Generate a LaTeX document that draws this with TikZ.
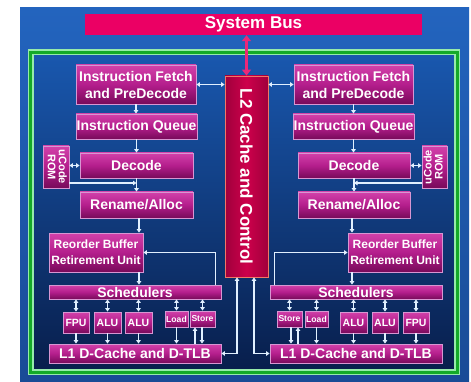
\documentclass[tikz,border=0pt]{standalone}
\usepackage{fontspec}
\setmainfont{Liberation Sans}
\usetikzlibrary{arrows.meta}
\definecolor{bgtop}{RGB}{35,100,190}
\definecolor{bgbot}{RGB}{25,75,150}
\definecolor{intop}{RGB}{25,88,175}
\definecolor{inbot}{RGB}{8,30,75}
\definecolor{frgreen}{RGB}{20,170,40}
\definecolor{frlight}{RGB}{150,235,170}
\definecolor{bxtop}{RGB}{210,65,170}
\definecolor{bxmid}{RGB}{180,30,140}
\definecolor{bxbot}{RGB}{120,10,90}
\definecolor{bxline}{RGB}{215,150,210}
\definecolor{ltwo}{RGB}{205,0,75}
\definecolor{ltwodark}{RGB}{160,0,60}
\definecolor{ltwoline}{RGB}{240,120,100}
\definecolor{buscol}{RGB}{235,0,100}
\definecolor{busarrow}{RGB}{235,40,120}
\definecolor{arrowc}{RGB}{225,240,255}
\tikzset{
  box/.style={draw=bxline, line width=0.8pt, top color=bxtop, bottom color=bxbot, middle color=bxmid,
    inner sep=0pt, text=white, align=center, font=\fontsize{14}{17}\selectfont\bfseries},
  midfont/.style={font=\fontsize{12}{16}\selectfont\bfseries},
  unitfont/.style={font=\fontsize{10.5}{12}\selectfont\bfseries},
  smallfont/.style={font=\fontsize{8.6}{10}\selectfont\bfseries},
  romfont/.style={font=\fontsize{11}{13}\selectfont\bfseries},
  arr/.style={draw=arrowc, line width=1.3pt, -{Triangle[length=3.5pt,width=4.5pt]}},
  darr/.style={draw=arrowc, line width=1.3pt, {Triangle[length=3.5pt,width=4.5pt]}-{Triangle[length=3.5pt,width=4.5pt]}},
}
\begin{document}
\begin{tikzpicture}[x=1pt,y=-1pt]
\useasboundingbox (0,0) rectangle (471,382);
\fill[white] (0,0) rectangle (471,382);
% background
\shade[top color=bgtop, bottom color=bgbot] (20,8) rectangle (469,382);
\shade[top color=intop, bottom color=inbot] (30.5,52.5) rectangle (457,372);
\draw[frlight, line width=6pt] (30.5,52.5) rectangle (457,372);
\draw[frgreen, line width=3pt] (30.5,52.5) rectangle (457,372);
% bus and L2
\node[fill=buscol, minimum width=337, minimum height=21, inner sep=0pt, text=white,
  font=\fontsize{17}{20}\selectfont\bfseries] (bus) at (253.5,24.5) {System Bus};
\node[draw=ltwoline, line width=0.8pt, left color=ltwodark, right color=ltwodark, middle color=ltwo,
  minimum width=43, minimum height=201, inner sep=0pt, text=white,
  font=\fontsize{17}{20}\selectfont\bfseries] (L2) at (246.5,176.5) {\rotatebox{-90}{L2 Cache and Control}};
\draw[busarrow, line width=3pt, {Triangle[length=6pt,width=9pt]}-{Triangle[length=6pt,width=9pt]}]
  (bus.south -| L2.north) -- (L2.north);
% left core
\node[box, minimum width=120, minimum height=39] (fetchL) at (136,84.5) {Instruction Fetch\\and PreDecode};
\node[box, minimum width=121, minimum height=25] (queueL) at (136.5,126.5) {Instruction Queue};
\node[box, minimum width=113, minimum height=25] (decodeL) at (136.5,165.5) {Decode};
\node[box, romfont, minimum width=26, minimum height=42] (ucodeL) at (56,167)
  {\rotatebox{-90}{\begin{tabular}{@{}c@{}}uCode\\[-2pt]ROM\end{tabular}}};
\node[box, minimum width=113, minimum height=26] (renameL) at (136.5,205) {Rename/Alloc};
\node[box, midfont, minimum width=94, minimum height=39] (robL) at (96,252.5) {Reorder Buffer\\Retirement Unit};
\node[box, minimum width=172, minimum height=14] (schedL) at (135,292) {Schedulers};
\node[box, unitfont, minimum width=26, minimum height=21] (fpuL) at (76,322.5) {FPU};
\node[box, unitfont, minimum width=27, minimum height=21] (aluaL) at (107.5,322.5) {ALU};
\node[box, unitfont, minimum width=27, minimum height=21] (alubL) at (138.5,322.5) {ALU};
\node[box, smallfont, minimum width=23, minimum height=16] (loadL) at (176.5,319) {Load};
\node[box, smallfont, minimum width=25, minimum height=16] (storeL) at (202.5,319) {Store};
\node[box, minimum width=172, minimum height=19] (l1L) at (135,353.5) {L1 D-Cache and D-TLB};
% right core
\node[box, minimum width=119, minimum height=39] (fetchR) at (353.5,84.5) {Instruction Fetch\\and PreDecode};
\node[box, minimum width=121, minimum height=25] (queueR) at (353.5,126.5) {Instruction Queue};
\node[box, minimum width=112, minimum height=25] (decodeR) at (354,165.5) {Decode};
\node[box, romfont, minimum width=25, minimum height=42] (ucodeR) at (434.5,167)
  {\rotatebox{90}{\begin{tabular}{@{}c@{}}uCode\\[-2pt]ROM\end{tabular}}};
\node[box, minimum width=112, minimum height=26] (renameR) at (354,205) {Rename/Alloc};
\node[box, midfont, minimum width=94, minimum height=39] (robR) at (395,252.5) {Reorder Buffer\\Retirement Unit};
\node[box, minimum width=172, minimum height=14] (schedR) at (356,292) {Schedulers};
\node[box, smallfont, minimum width=25, minimum height=16] (storeR) at (289.5,319) {Store};
\node[box, smallfont, minimum width=23, minimum height=16] (loadR) at (316.5,319) {Load};
\node[box, unitfont, minimum width=27, minimum height=21] (aluaR) at (353.5,322.5) {ALU};
\node[box, unitfont, minimum width=26, minimum height=21] (alubR) at (385,322.5) {ALU};
\node[box, unitfont, minimum width=26, minimum height=21] (fpuR) at (416,322.5) {FPU};
\node[box, minimum width=172, minimum height=19] (l1R) at (356,353.5) {L1 D-Cache and D-TLB};
% helper coordinates
\coordinate (cxL) at (139,0);
\coordinate (cxR) at (352,0);
\coordinate (ym) at (0,183);
\coordinate (stLu) at (195,0);
\coordinate (stLd) at (202,0);
\coordinate (stRd) at (291,0);
\coordinate (stRu) at (298,0);
\coordinate (ca) at (237,0);
\coordinate (cb) at (254,0);
% left connectors
\draw[darr] (fetchL.east) -- (fetchL.east -| L2.west);
\draw[arr] (fetchL.south) -- (fetchL.south |- queueL.north);
\draw[arr] (queueL.south) -- (queueL.south |- decodeL.north);
\draw[darr] (ucodeL.east |- decodeL.west) -- (decodeL.west);
\draw[arr] (decodeL.south) -- (decodeL.south |- renameL.north);
\draw[arr] (ucodeL.east |- ym) -- (decodeL.south |- ym);
\draw[arr] (cxL |- renameL.south) -- (cxL |- robL.north);
\draw[arr] (cxL |- robL.south) -- (cxL |- schedL.north);
\draw[arr] ([xshift=-6pt]schedL.north east) |- (robL.east);
\foreach \u in {fpuL,aluaL,alubL,loadL,storeL}{
  \draw[darr] (\u.north |- schedL.south) -- (\u.north);
}
\foreach \u in {fpuL,aluaL,alubL,loadL}{
  \draw[arr] (\u.south) -- (\u.south |- l1L.north);
}
\draw[arr] (stLu |- l1L.north) -- (stLu |- storeL.south);
\draw[arr] (stLd |- storeL.south) -- (stLd |- l1L.north);
\draw[darr] (l1L.east) -| (ca |- L2.south);
% right connectors
\draw[darr] (L2.east |- fetchR.west) -- (fetchR.west);
\draw[arr] (fetchR.south) -- (fetchR.south |- queueR.north);
\draw[arr] (queueR.south) -- (queueR.south |- decodeR.north);
\draw[darr] (ucodeR.west |- decodeR.east) -- (decodeR.east);
\draw[arr] (decodeR.south) -- (decodeR.south |- renameR.north);
\draw[arr] (ucodeR.west |- ym) -- (decodeR.south |- ym);
\draw[arr] (cxR |- renameR.south) -- (cxR |- robR.north);
\draw[arr] (cxR |- robR.south) -- (cxR |- schedR.north);
\draw[arr] ([xshift=5pt]schedR.north west) |- (robR.west);
\foreach \u in {storeR,loadR,aluaR,alubR,fpuR}{
  \draw[darr] (\u.north |- schedR.south) -- (\u.north);
}
\foreach \u in {loadR,aluaR,alubR,fpuR}{
  \draw[arr] (\u.south) -- (\u.south |- l1R.north);
}
\draw[arr] (stRd |- storeR.south) -- (stRd |- l1R.north);
\draw[arr] (stRu |- l1R.north) -- (stRu |- storeR.south);
\draw[darr] (cb |- L2.south) |- (l1R.west);
\end{tikzpicture}
\end{document}
